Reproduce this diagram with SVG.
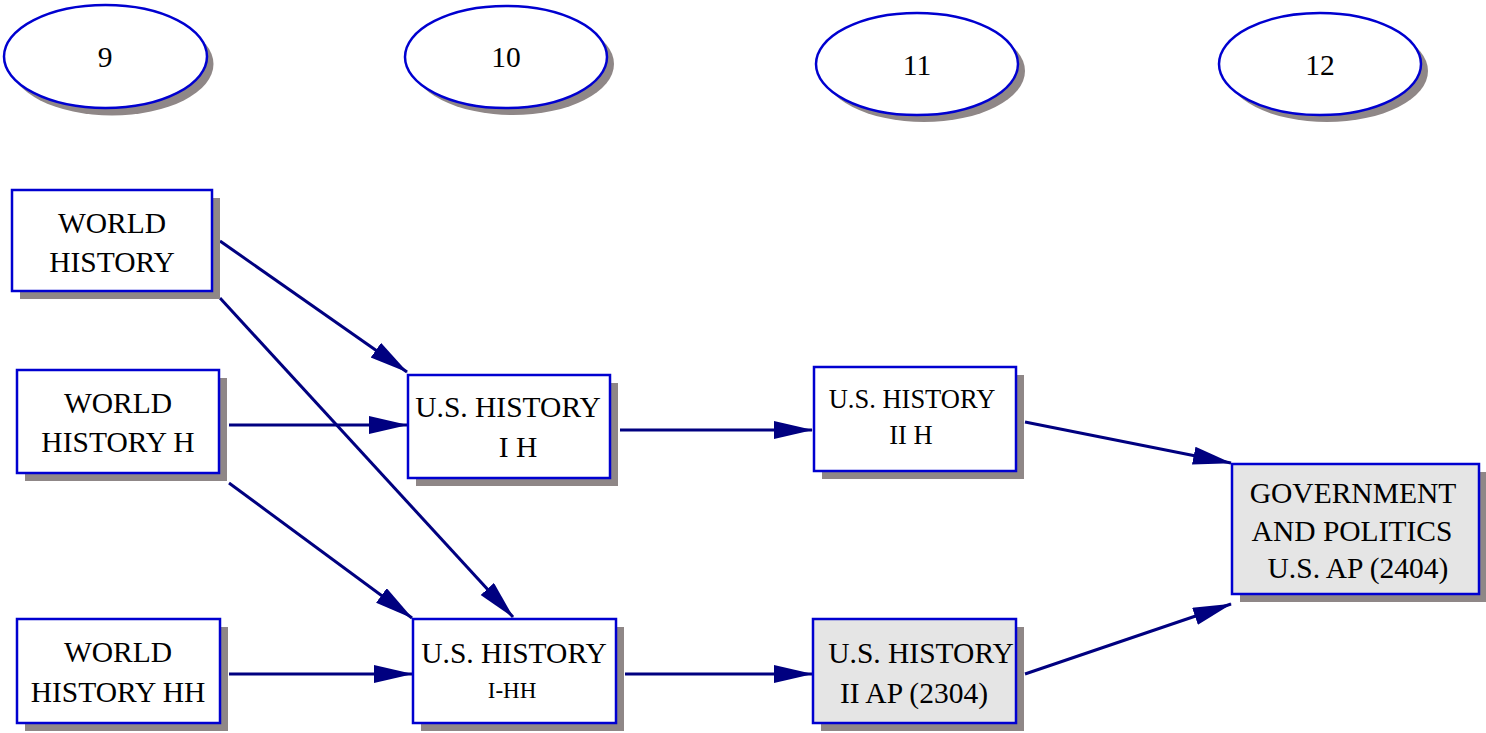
<svg xmlns="http://www.w3.org/2000/svg" width="1486" height="733" viewBox="0 0 1486 733">
<defs>
<style>
.sh{fill:#8f8787;stroke:none}
.nd{fill:#ffffff;stroke:#0000d0;stroke-width:2.5}
.gr{fill:#e5e5e5;stroke:#0000d0;stroke-width:2.5}
.t{font-family:"Liberation Serif","Times New Roman",serif;font-size:29.5px;fill:#000;text-anchor:middle}
.s{font-size:26.5px}
.x{font-size:23px}
.c{stroke:#000080;stroke-width:3;fill:none;marker-end:url(#ah)}
</style>
<marker id="ah" markerUnits="userSpaceOnUse" markerWidth="42" markerHeight="20" refX="38" refY="9" orient="auto">
<path d="M0,0 L39,9 L0,18 Z" fill="#000080"/>
</marker>
</defs>
<rect width="1486" height="733" fill="#ffffff"/>
<g id="connectors">
<line class="c" x1="220" y1="241" x2="407" y2="372"/>
<line class="c" x1="220" y1="298" x2="513" y2="617"/>
<line class="c" x1="229" y1="425" x2="407" y2="425"/>
<line class="c" x1="229" y1="483" x2="412" y2="618"/>
<line class="c" x1="229" y1="674" x2="412" y2="674"/>
<line class="c" x1="620" y1="430" x2="812" y2="430"/>
<line class="c" x1="1025" y1="422" x2="1231" y2="463"/>
<line class="c" x1="625" y1="674" x2="812" y2="674"/>
<line class="c" x1="1025" y1="674" x2="1231" y2="604"/>
</g>
<g id="g9">
<ellipse class="sh" cx="112" cy="64" rx="101.5" ry="51.5"/>
<ellipse class="nd" cx="105.5" cy="56.5" rx="101.5" ry="51.5"/>
<text class="t" x="105" y="67">9</text>
</g>
<g id="g10">
<ellipse class="sh" cx="513" cy="64" rx="101" ry="51"/>
<ellipse class="nd" cx="506" cy="57" rx="101" ry="51"/>
<text class="t" x="506" y="67">10</text>
</g>
<g id="g11">
<ellipse class="sh" cx="924" cy="71" rx="101" ry="51"/>
<ellipse class="nd" cx="917" cy="64" rx="101" ry="51"/>
<text class="t" x="917" y="75">11</text>
</g>
<g id="g12">
<ellipse class="sh" cx="1327" cy="71" rx="101" ry="51"/>
<ellipse class="nd" cx="1320" cy="64" rx="101" ry="51"/>
<text class="t" x="1320" y="75">12</text>
</g>
<g id="worldHistory">
<rect class="sh" x="20" y="198" width="200" height="101"/>
<rect class="nd" x="12" y="190" width="200" height="101"/>
<text class="t" x="112" y="233">WORLD</text>
<text class="t" x="112" y="272">HISTORY</text>
</g>
<g id="worldHistoryH">
<rect class="sh" x="25" y="378" width="202" height="103"/>
<rect class="nd" x="17" y="370" width="202" height="103"/>
<text class="t" x="118" y="413">WORLD</text>
<text class="t" x="118" y="452">HISTORY H</text>
</g>
<g id="worldHistoryHH">
<rect class="sh" x="25" y="627" width="203" height="104"/>
<rect class="nd" x="17" y="619" width="203" height="104"/>
<text class="t" x="118" y="662">WORLD</text>
<text class="t" x="118" y="702">HISTORY HH</text>
</g>
<g id="usHistoryIH">
<rect class="sh" x="416" y="383" width="202" height="103"/>
<rect class="nd" x="408" y="375" width="202" height="103"/>
<text class="t" x="508" y="417">U.S. HISTORY</text>
<text class="t" x="518" y="457">I H</text>
</g>
<g id="usHistoryIHH">
<rect class="sh" x="421" y="627" width="203" height="104"/>
<rect class="nd" x="413" y="619" width="203" height="104"/>
<text class="t" x="514" y="663">U.S. HISTORY</text>
<text class="t x" x="512" y="698">I-HH</text>
</g>
<g id="usHistoryIIH">
<rect class="sh" x="822" y="375" width="202" height="104"/>
<rect class="nd" x="814" y="367" width="202" height="104"/>
<text class="t s" x="912" y="408">U.S. HISTORY</text>
<text class="t s" x="911" y="444">II H</text>
</g>
<g id="usHistoryIIAP">
<rect class="sh" x="821" y="627" width="203" height="104"/>
<rect class="gr" x="813" y="619" width="203" height="104"/>
<text class="t" x="921" y="663">U.S. HISTORY</text>
<text class="t" x="914" y="703">II AP (2304)</text>
</g>
<g id="govPolitics">
<rect class="sh" x="1240" y="472" width="247" height="130"/>
<rect class="gr" x="1232" y="464" width="247" height="130"/>
<text class="t" x="1353" y="503">GOVERNMENT</text>
<text class="t" x="1352" y="541">AND POLITICS</text>
<text class="t" x="1358" y="578">U.S. AP (2404)</text>
</g>
</svg>
